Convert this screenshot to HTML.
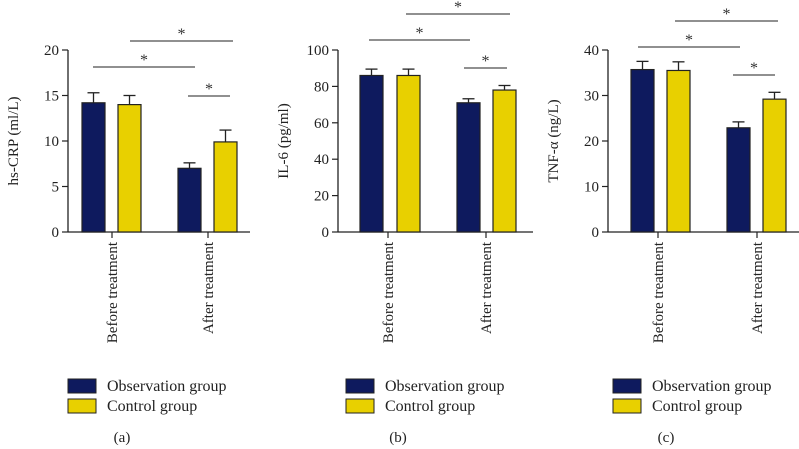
<!DOCTYPE html>
<html><head><meta charset="utf-8"><style>
body{margin:0;background:#fff}
svg{display:block}
svg text{font-family:"Liberation Serif","Times New Roman",serif}
</style></head><body>
<svg id="c" width="799" height="449" viewBox="0 0 799 449" font-family="Liberation Serif, serif"></svg>
<script>
const categories=["Before treatment","After treatment"];
const seriesNames=["Observation group","Control group"];
const crpObs=[14.2,7.0], crpObsErr=[1.1,0.6], crpCtl=[14.0,9.9], crpCtlErr=[1.0,1.3];
const il6Obs=[86,71], il6ObsErr=[3.5,2.2], il6Ctl=[86,78], il6CtlErr=[3.5,2.5];
const tnfObs=[35.7,22.9], tnfObsErr=[1.8,1.3], tnfCtl=[35.5,29.2], tnfCtlErr=[1.9,1.5];
const crpTicks=[0,5,10,15,20], il6Ticks=[0,20,40,60,80,100], tnfTicks=[0,10,20,30,40];
const panelTitles=["hs-CRP (ml/L)","IL-6 (pg/ml)","TNF-\u03b1 (ng/L)"];
const panelLetters=["(a)","(b)","(c)"];
const NS="http://www.w3.org/2000/svg", svg=document.getElementById('c');
function el(t,a,p){const e=document.createElementNS(NS,t);for(const k in a)e.setAttribute(k,a[k]);if(t==='text')e.setAttribute('font-family','Liberation Serif, serif');(p||svg).appendChild(e);return e;}
const panels=[
 {ax:68,xe:250,bars:[82,118,178,214],ticks:[112,208],max:20,t:crpTicks,obs:crpObs,oe:crpObsErr,ctl:crpCtl,ce:crpCtlErr,
  sig:[[130,233,41],[93,195,67],[188,230,96]],lx:68,let:122},
 {ax:338,xe:533,bars:[360,397,457,493],ticks:[388,486],max:100,t:il6Ticks,obs:il6Obs,oe:il6ObsErr,ctl:il6Ctl,ce:il6CtlErr,
  sig:[[406,510,14],[369,470,40],[464,507,68]],lx:346,let:398},
 {ax:608,xe:799,bars:[631,667,727,763],ticks:[658,757],max:40,t:tnfTicks,obs:tnfObs,oe:tnfObsErr,ctl:tnfCtl,ce:tnfCtlErr,
  sig:[[675,778,21],[638,740,47],[733,775,75]],lx:613,let:666}];
const y0=232,yTop=50,bw=23;
panels.forEach((p,i)=>{
 const g=el('g',{});
 
 
 const y=v=>y0-(v/p.max)*(y0-yTop);
 el('line',{x1:p.ax,y1:yTop,x2:p.ax,y2:y0,stroke:'#222','stroke-width':1.3},g);
 el('line',{x1:p.ax,y1:y0,x2:p.xe,y2:y0,stroke:'#222','stroke-width':1.3},g);
 p.t.forEach(v=>{
  el('line',{x1:p.ax-6,y1:y(v),x2:p.ax,y2:y(v),stroke:'#222','stroke-width':1.2},g);
  const t=el('text',{x:p.ax-9,y:y(v)+5,'text-anchor':'end','font-size':15,fill:'#222'},g);t.textContent=v;
  
 });
 const yt=el('text',{transform:`translate(${p.ax-50},${(y0+yTop)/2}) rotate(-90)`,'text-anchor':'middle','font-size':15,fill:'#222'},g);
 yt.textContent=panelTitles[i];
 
 categories.forEach((c,j)=>{
  const tx=p.ticks[j];
  el('line',{x1:tx,y1:y0,x2:tx,y2:y0+6,stroke:'#222','stroke-width':1.2},g);
  const t=el('text',{transform:`translate(${tx+5},${y0+10}) rotate(-90)`,'text-anchor':'end','font-size':15,fill:'#222'},g);
  t.textContent=c;
  
  [[p.obs,p.oe,'#0e1a5e'],[p.ctl,p.ce,'#e8d000']].forEach((s,k)=>{
   const bx=p.bars[j*2+k], v=s[0][j], e=s[1][j], cx=bx+bw/2;
   el('line',{x1:cx,y1:y(v),x2:cx,y2:y(v+e),stroke:'#222','stroke-width':1.3},g);
   el('line',{x1:cx-6,y1:y(v+e),x2:cx+6,y2:y(v+e),stroke:'#222','stroke-width':1.3},g);
   const r=el('rect',{x:bx,y:y(v),width:bw,height:y0-y(v),fill:s[2],stroke:'#222','stroke-width':1.2},g);
   
   
  });
 });
 p.sig.forEach(s=>{
  el('line',{x1:s[0],y1:s[2],x2:s[1],y2:s[2],stroke:'#222','stroke-width':1.1},g);
  const t=el('text',{x:(s[0]+s[1])/2,y:s[2]-2,'text-anchor':'middle','font-size':16,fill:'#333'},g);t.textContent='*';
  
 });
 seriesNames.forEach((n,k)=>{
  const r=el('rect',{x:p.lx,y:379+k*20,width:28,height:14,fill:k?'#e8d000':'#0e1a5e',stroke:'#222','stroke-width':1},g);
  
  const t=el('text',{x:p.lx+39,y:391+k*20,'font-size':16,fill:'#222'},g);t.textContent=n;
  
  
 });
 const l=el('text',{x:p.let,y:442,'text-anchor':'middle','font-size':15,fill:'#222'},g);l.textContent=panelLetters[i];
 
});
</script>
</body></html>
